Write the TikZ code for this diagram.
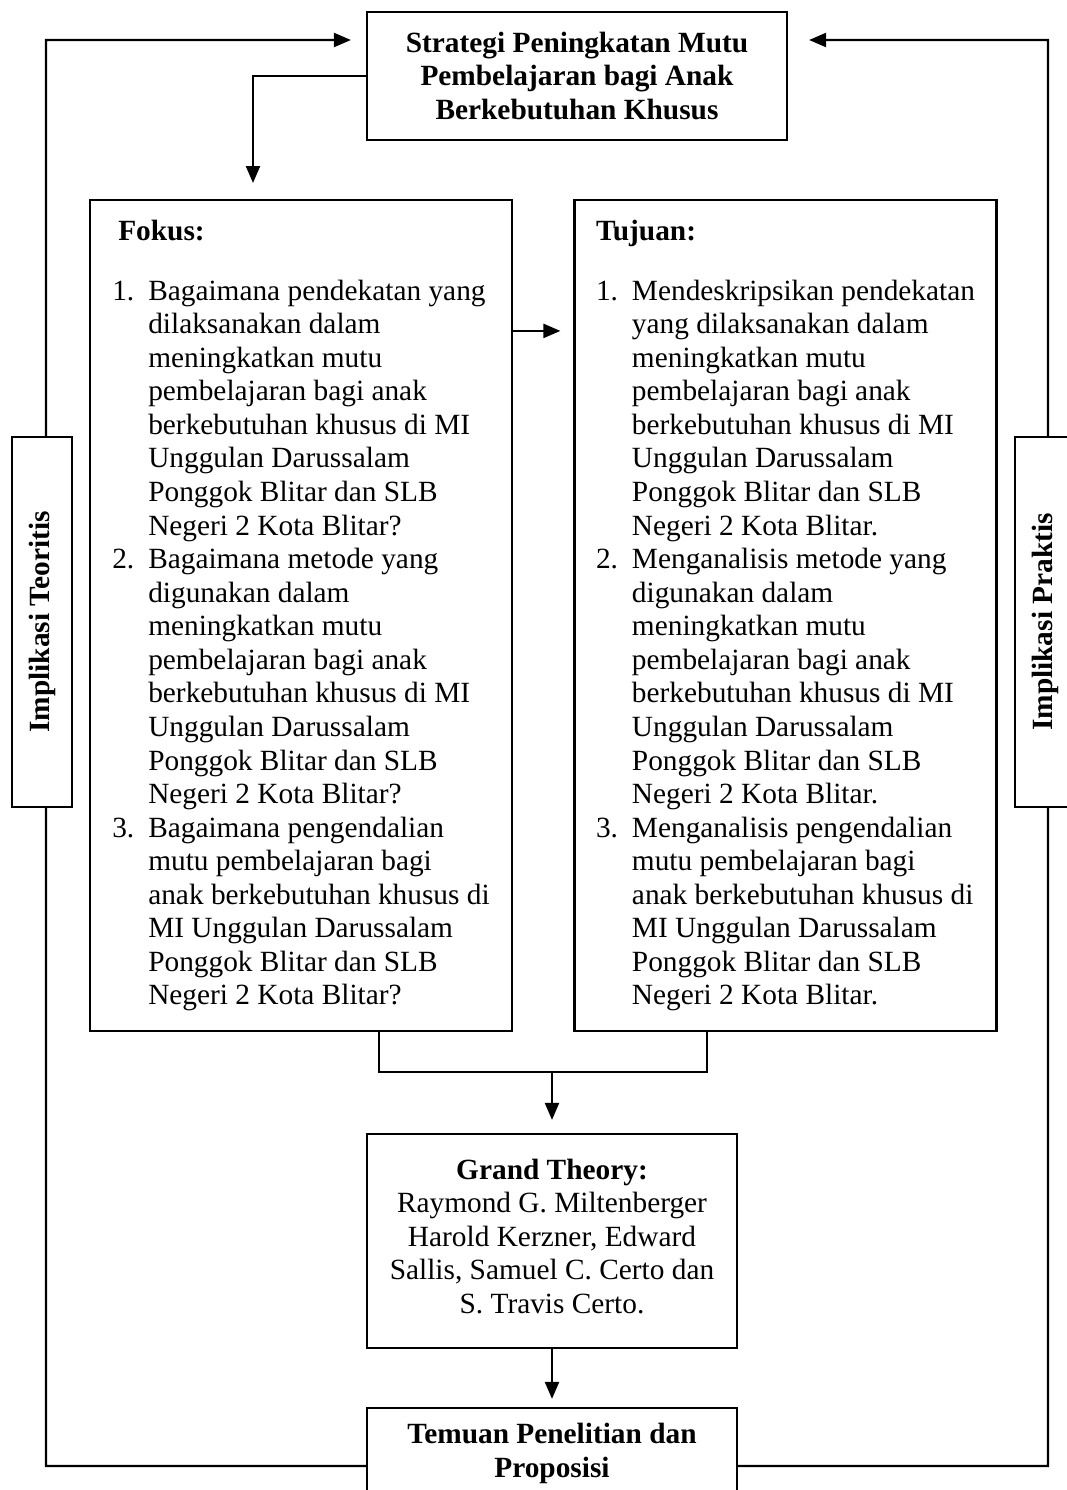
\documentclass[tikz,border=0pt]{standalone}
\usepackage{fontspec}
\setmainfont{Liberation Serif}
\usepackage{tikz}
\usetikzlibrary{arrows.meta}

\newcommand{\nomor}[1]{\makebox[0.72cm][l]{#1}}
\newcommand{\lanjut}{\hspace*{0.72cm}}

\begin{document}
\begin{tikzpicture}[
    x=0.02cm, y=-0.02cm,
    font=\fontsize{16.7}{19.1}\selectfont,
    box/.style={draw, rectangle, line width=1.3pt, fill=white, align=center, inner sep=0pt},
    listbox/.style={box, align=left, minimum width=8.44cm, minimum height=16.62cm},
    sidebox/.style={box, rotate=90, minimum width=7.4cm, minimum height=1.2cm, font=\fontsize{16.7}{19.1}\selectfont\bfseries},
    arrow/.style={-{Triangle[length=0.34cm, width=0.28cm]}, line width=1.3pt},
    link/.style={line width=1.3pt}
]
\clip (0,0) rectangle (1067,1490);

\node[box, minimum width=8.4cm, minimum height=2.56cm] (strategi) at (577,76)
    {\textbf{Strategi Peningkatan Mutu}\\ \textbf{Pembelajaran bagi Anak}\\ \textbf{Berkebutuhan Khusus}};

\node[listbox] (fokus) at (301,615.5) {%
\hspace*{0.12cm}\textbf{Fokus:}\\[0.53cm]
\nomor{1.}Bagaimana pendekatan yang\\
\lanjut dilaksanakan dalam\\
\lanjut meningkatkan mutu\\
\lanjut pembelajaran bagi anak\\
\lanjut berkebutuhan khusus di MI\\
\lanjut Unggulan Darussalam\\
\lanjut Ponggok Blitar dan SLB\\
\lanjut Negeri 2 Kota Blitar?\\
\nomor{2.}Bagaimana metode yang\\
\lanjut digunakan dalam\\
\lanjut meningkatkan mutu\\
\lanjut pembelajaran bagi anak\\
\lanjut berkebutuhan khusus di MI\\
\lanjut Unggulan Darussalam\\
\lanjut Ponggok Blitar dan SLB\\
\lanjut Negeri 2 Kota Blitar?\\
\nomor{3.}Bagaimana pengendalian\\
\lanjut mutu pembelajaran bagi\\
\lanjut anak berkebutuhan khusus di\\
\lanjut MI Unggulan Darussalam\\
\lanjut Ponggok Blitar dan SLB\\
\lanjut Negeri 2 Kota Blitar?};

\node[listbox] (tujuan) at (785.5,615.5) {%
\textbf{Tujuan:}\\[0.53cm]
\nomor{1.}Mendeskripsikan pendekatan\\
\lanjut yang dilaksanakan dalam\\
\lanjut meningkatkan mutu\\
\lanjut pembelajaran bagi anak\\
\lanjut berkebutuhan khusus di MI\\
\lanjut Unggulan Darussalam\\
\lanjut Ponggok Blitar dan SLB\\
\lanjut Negeri 2 Kota Blitar.\\
\nomor{2.}Menganalisis metode yang\\
\lanjut digunakan dalam\\
\lanjut meningkatkan mutu\\
\lanjut pembelajaran bagi anak\\
\lanjut berkebutuhan khusus di MI\\
\lanjut Unggulan Darussalam\\
\lanjut Ponggok Blitar dan SLB\\
\lanjut Negeri 2 Kota Blitar.\\
\nomor{3.}Menganalisis pengendalian\\
\lanjut mutu pembelajaran bagi\\
\lanjut anak berkebutuhan khusus di\\
\lanjut MI Unggulan Darussalam\\
\lanjut Ponggok Blitar dan SLB\\
\lanjut Negeri 2 Kota Blitar.};

\node[box, minimum width=7.4cm, minimum height=4.28cm] (grand) at (552,1241)
    {\textbf{Grand Theory:}\\ Raymond G. Miltenberger\\ Harold Kerzner, Edward\\ Sallis, Samuel C. Certo dan\\ S. Travis Certo.\\[-0.48cm]\mbox{}};
\node[box, minimum width=7.4cm, minimum height=1.82cm] (temuan) at (552,1453.5)
    {\textbf{Temuan Penelitian dan}\\ \textbf{Proposisi}};

\coordinate (fokusin) at (253,200);
\coordinate (gabung) at (552,1072);
\coordinate (kiri) at (46,40);
\coordinate (kanan) at (1048,40);

\draw[arrow, shorten >=0.34cm] (strategi.west) -| (fokusin);
\draw[arrow, shorten >=0.26cm] ([yshift=-2.64cm]fokus.north east) -- ([yshift=-2.64cm]tujuan.north west);
\draw[link] ([xshift=1.56cm]fokus.south) |- (gabung) -| ([xshift=-1.57cm]tujuan.south);
\draw[arrow, shorten >=0.26cm] (gabung) -- (grand.north);
\draw[arrow, shorten >=0.16cm] (grand.south) -- (temuan.north);
\draw[arrow, shorten >=0.3cm] ([yshift=-0.25cm]temuan.west) -| (kiri) -- ([yshift=0.72cm]strategi.west);
\draw[arrow, shorten >=0.42cm] ([yshift=-0.25cm]temuan.east) -| (kanan) -- ([yshift=0.72cm]strategi.east);

\node[sidebox] (teoritis) at (42,622) {Implikasi Teoritis};
\node[sidebox] (praktis) at (1045,622) {Implikasi Praktis};
\end{tikzpicture}
\end{document}
